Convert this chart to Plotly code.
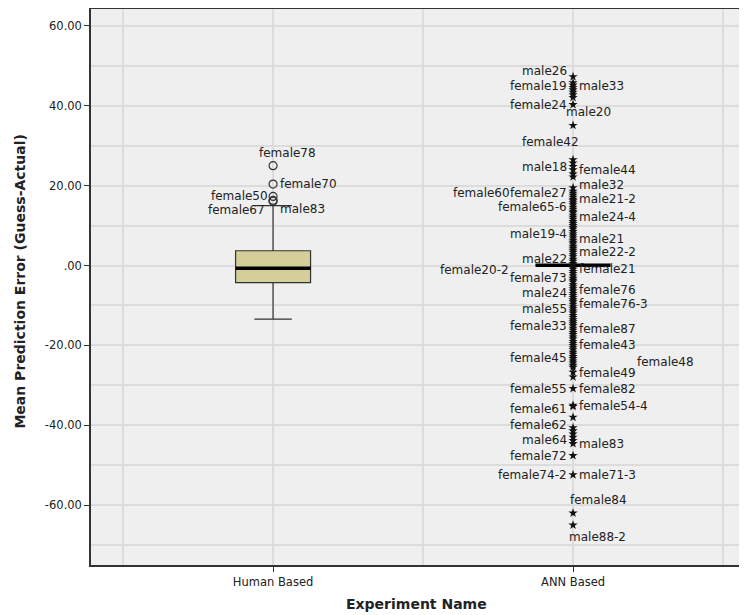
import plotly.graph_objects as go

# ---------------- data ----------------
categories = ["Human Based", "ANN Based"]
cat_pos = [1, 2]

q1 = [-4.3, 0.1]
median = [-0.7, 0.1]
q3 = [3.7, 0.1]
lower_whisker = [-13.4, 0.1]
upper_whisker = [15.0, 0.1]

human_outliers = [25.0, 20.4, 17.3, 16.3, 16.1]
human_outlier_names = ["female78", "female70", "female50", "female67", "male83"]

ann_extremes = [
    47.3, 45.8, 45.2, 44.6, 44.0, 43.4, 42.8, 42.1, 40.3, 35.1,
    26.5, 25.7, 24.8, 24.0, 22.9, 22.2, 19.5,
    18.6, 18.1, 17.6, 17.1, 16.6, 16.2, 15.7, 15.2, 14.6, 14.1, 13.6, 13.2,
    12.6, 12.1, 11.6, 11.0, 10.5, 10.0, 9.5, 9.1, 8.5, 7.9, 7.4, 6.9, 6.3,
    5.8, 5.4, 4.8, 4.3, 3.8, 3.3, 2.7, 2.2, 1.6, 1.1, 0.5, 0.1, -0.4, -0.9,
    -1.5, -2.0, -2.6, -3.2, -3.7, -4.1, -4.8, -5.3, -5.8, -6.4, -7.0, -7.5,
    -8.0, -8.6, -9.1, -9.7, -10.3, -10.8, -11.4, -11.9, -12.5, -13.0, -13.6,
    -14.1, -14.6, -15.1, -15.7, -16.2, -16.8, -17.3, -17.9, -18.4, -19.0,
    -19.5, -20.0, -20.6, -21.1, -21.7, -22.2, -22.8, -23.3, -23.9, -24.4,
    -25.0, -25.5, -26.7, -27.9,
    -30.8, -35.0, -35.3, -38.0, -40.6, -41.4, -42.2, -43.0, -43.8, -44.6,
    -47.6, -52.4, -62.0, -65.0,
]

ann_label_names = [
    "male26", "female19", "male33", "female24", "male20", "female42",
    "male18", "female44", "male32", "female60", "female27", "male21-2",
    "female65-6", "male24-4", "male19-4", "male21", "male22-2", "male22",
    "female21", "female20-2", "female73", "female76", "male24", "female76-3",
    "male55", "female33", "female87", "female43", "female45", "female48",
    "female49", "female55", "female82", "female61", "female54-4", "female62",
    "male64", "male83", "female72", "female74-2", "male71-3", "female84",
    "male88-2",
]
ann_label_values = [
    47.3, 44.9, 44.9, 40.3, 35.1, 26.5,
    24.8, 24.0, 19.5, 18.1, 18.1, 16.6,
    14.6, 12.1, 7.9, 6.7, 3.3, 1.6,
    -0.9, -1.1, -3.2, -6.0, -7.0, -9.7,
    -11.0, -15.1, -15.8, -20.0, -23.2, -24.2,
    -26.9, -31.0, -31.0, -35.0, -35.3, -40.6,
    -43.8, -44.8, -47.6, -52.4, -52.4, -62.0,
    -65.0,
]

y_tickvals = [-60, -40, -20, 0, 20, 40, 60]
y_ticktext = ["-60.00", "-40.00", "-20.00", ".00", "20.00", "40.00", "60.00"]

# ---------------- label placement (style) ----------------
# name: (xanchor, xshift px, yshift px)
L = ("right", -4, 0)
R = ("left", 4, 0)
human_place = {
    "female78": ("center", 14, 13),
    "female70": ("left", 5, 0),
    "female50": ("right", -3, 0),
    "female67": ("right", -6, -10),
    "male83": ("left", 5, -8),
}
ann_place = {
    "male26": ("right", -4, 6), "female19": L, "male33": R, "female24": L,
    "male20": ("left", -9, 13), "female42": ("right", 8, 18),
    "male18": L, "female44": R, "male32": ("left", 4, 3),
    "female60": ("right", -61, 0), "female27": L, "male21-2": R,
    "female65-6": L, "male24-4": R, "male19-4": L, "male21": R,
    "male22-2": R, "male22": L, "female21": R, "female20-2": ("right", -62, 0),
    "female73": L, "female76": R, "male24": L, "female76-3": R,
    "male55": L, "female33": L, "female87": R, "female43": R,
    "female45": L, "female48": ("left", 62, 0), "female49": R,
    "female55": L, "female82": R, "female61": ("right", -4, -4),
    "female54-4": R, "female62": ("right", -4, 3), "male64": L,
    "male83": R, "female72": L, "female74-2": L, "male71-3": R,
    "female84": ("left", -5, 13), "male88-2": ("left", -6, -12),
}

FONT = "DejaVu Sans"
BOX_W = 0.25
fig = go.Figure()

box_fill = "#D4CF98"
for i in range(len(categories)):
    fig.add_trace(go.Box(
        x=[cat_pos[i]], q1=[q1[i]], median=[median[i]], q3=[q3[i]],
        lowerfence=[lower_whisker[i]], upperfence=[upper_whisker[i]],
        width=BOX_W, whiskerwidth=0.5, boxpoints=False,
        fillcolor=box_fill if i == 0 else "rgba(0,0,0,0)",
        line=dict(color="#333333", width=1.2),
        showlegend=False, hoverinfo="skip",
    ))
    # thick median line
    fig.add_trace(go.Scatter(
        x=[cat_pos[i] - BOX_W / 2, cat_pos[i] + BOX_W / 2],
        y=[median[i], median[i]], mode="lines",
        line=dict(color="#000000", width=3.5),
        showlegend=False, hoverinfo="skip",
    ))

fig.add_trace(go.Scatter(
    x=[cat_pos[0]] * len(human_outliers), y=human_outliers, mode="markers",
    marker=dict(symbol="circle-open", size=8, color="#333333",
                line=dict(width=1.2, color="#333333")),
    showlegend=False, hoverinfo="skip",
))
fig.add_trace(go.Scatter(
    x=[cat_pos[1]] * len(ann_extremes), y=ann_extremes, mode="markers",
    marker=dict(symbol="star", size=7, color="#111111",
                line=dict(width=0)),
    showlegend=False, hoverinfo="skip",
))

annotations = []
for name, val in zip(human_outlier_names, human_outliers):
    xa, xs, ys = human_place[name]
    annotations.append(dict(x=cat_pos[0], y=val, text=name, showarrow=False,
                            xanchor=xa, yanchor="middle", xshift=xs, yshift=ys,
                            font=dict(family=FONT, size=12, color="#222222")))
for name, val in zip(ann_label_names, ann_label_values):
    xa, xs, ys = ann_place[name]
    annotations.append(dict(x=cat_pos[1], y=val, text=name, showarrow=False,
                            xanchor=xa, yanchor="middle", xshift=xs, yshift=ys,
                            font=dict(family=FONT, size=12, color="#222222")))

# axis titles
annotations.append(dict(xref="paper", yref="paper", x=-0.109, y=0.51,
                        text="<b>Mean Prediction Error (Guess-Actual)</b>",
                        textangle=-90, showarrow=False, xanchor="center",
                        yanchor="middle",
                        font=dict(family=FONT, size=14, color="#222222")))
annotations.append(dict(xref="paper", yref="paper", x=0.5, y=-0.07,
                        text="<b>Experiment Name</b>", showarrow=False,
                        xanchor="center", yanchor="middle",
                        font=dict(family=FONT, size=14, color="#222222")))

grid = "#DCDCDC"
# page body adds an 8px offset, so the figure is sized to fit the window
fig.update_layout(
    width=739, height=607,
    margin=dict(l=83, r=6, t=1, b=50, autoexpand=False),
    paper_bgcolor="white", plot_bgcolor="#EFEFEF",
    font=dict(family=FONT, size=11.5, color="#222222"),
    annotations=annotations,
    xaxis=dict(
        range=[0.393, 2.56], tickvals=cat_pos, ticktext=categories,
        ticks="outside", ticklen=5, tickcolor="#333333",
        showgrid=True, gridcolor=grid, gridwidth=1.5,
        minor=dict(tickvals=[0.5, 1.5, 2.5], showgrid=True,
                   gridcolor=grid, gridwidth=1.5, ticks=""),
        showline=True, linecolor="#333333", linewidth=1.5, mirror=True,
        zeroline=False,
    ),
    yaxis=dict(
        range=[-75, 64.25], tickvals=y_tickvals, ticktext=y_ticktext,
        ticks="outside", ticklen=5, tickcolor="#333333",
        showgrid=True, gridcolor=grid, gridwidth=1.5,
        minor=dict(tickvals=[-70, -50, -30, -10, 10, 30, 50], showgrid=True,
                   gridcolor=grid, gridwidth=1.5, ticks=""),
        showline=True, linecolor="#333333", linewidth=1.5, mirror=True,
        zeroline=False,
    ),
)

fig.write_html("out.html")
